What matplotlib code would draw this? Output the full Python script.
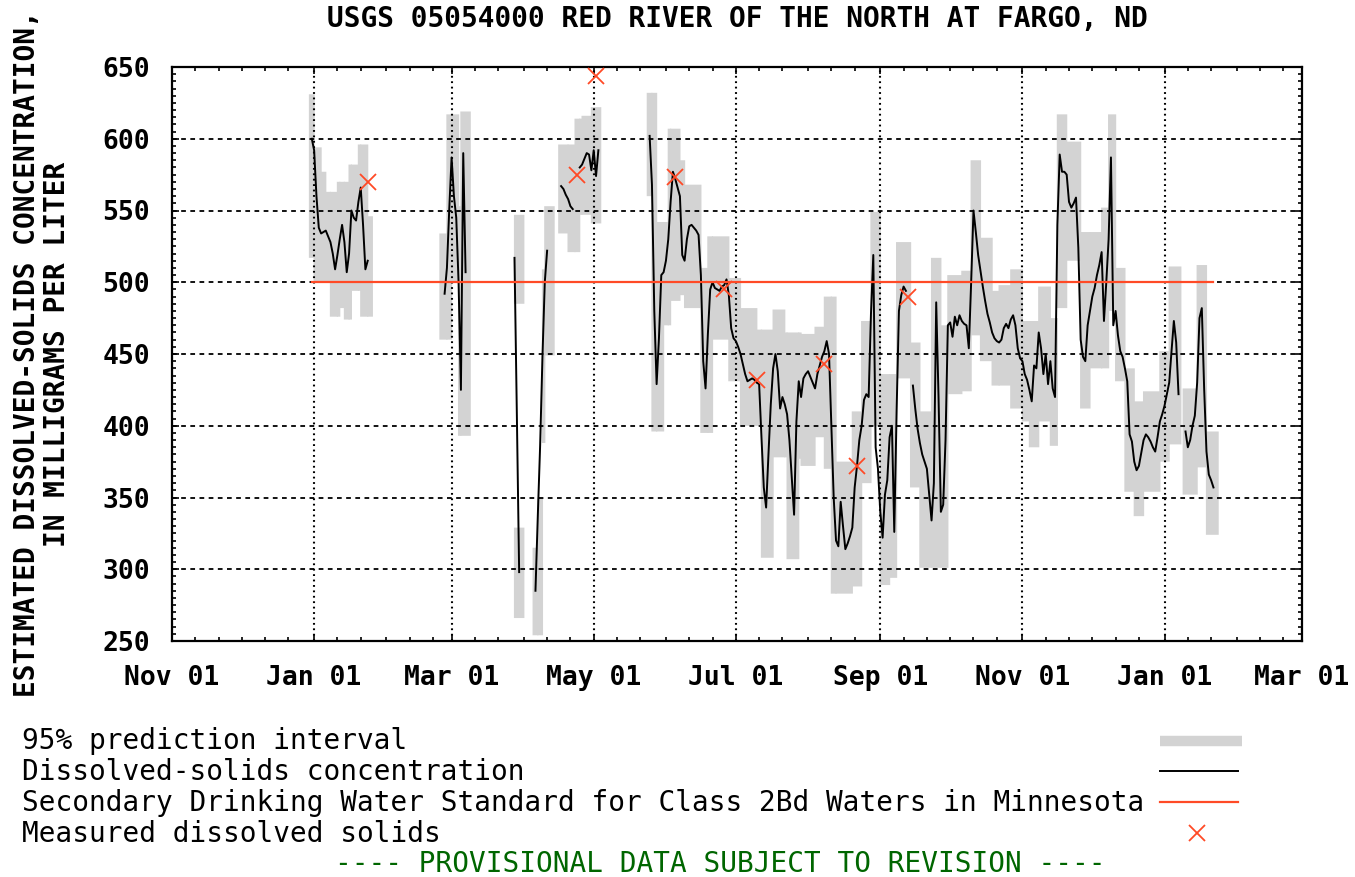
import numpy as np
import pandas as pd
import matplotlib
matplotlib.use("Agg")
import matplotlib.pyplot as plt
import matplotlib.dates as mdates
from matplotlib.lines import Line2D
from matplotlib.ticker import MultipleLocator

plt.rcParams["font.family"] = "DejaVu Sans Mono"
plt.rcParams["font.weight"] = "bold"
plt.rcParams["lines.scale_dashes"] = False

# estimated daily dissolved-solids concentration (mg/L), one list per unbroken run
run_starts = ["2012-12-31", "2013-02-26", "2013-03-28", "2013-04-06", "2013-04-17",
              "2013-04-25", "2013-05-25", "2013-09-15", "2014-01-10"]

conc_jan = [600, 592, 560, 538, 534, 535, 536, 532, 528, 520, 509, 519, 530, 540,
            528, 507, 520, 550, 545, 543, 556, 566, 540, 509, 515]
conc_mar = [492, 510, 551, 587, 560, 545, 500, 425, 590, 507]
conc_late_mar = [517, 409, 298]
conc_apr = [285, 337, 386, 448, 500, 522]
conc_mid_apr = [567, 565, 561, 558, 553, 551]
conc_late_apr = [580, 582, 586, 590, 589, 578, 592, 574, 592]
conc_summer = [
    602, 568, 480, 429, 461, 505, 507,
    515, 530, 556, 577, 572, 566, 560, 519, 515, 530, 539, 540, 538, 536, 533,
    505, 445, 426, 464, 495, 500, 496, 495, 494, 497, 498, 502, 491, 468, 461,
    459, 455, 450, 443, 436, 431, 432, 433, 432, 430, 429, 392, 357, 343, 380,
    415, 440, 450, 438, 412, 420, 415, 408, 390, 364, 338, 403, 431, 420, 433, 436,
    438, 434, 430, 426, 436, 442, 448, 452, 459, 450, 400, 350, 320, 316, 347,
    330, 314, 318, 323, 329, 357, 372, 390, 400, 418, 422, 420, 478, 519, 385, 370,
    340, 322, 352, 362, 392, 400, 326, 410, 480, 491, 497, 494]
conc_fall = [
    428, 412, 398, 388, 380, 375, 370, 352, 334, 360, 486, 420, 340, 345, 390, 470,
    472, 462, 476, 470, 477, 473, 471, 470, 454, 500, 550, 535, 519, 508, 497,
    487, 478, 472, 465, 461, 459, 458, 460, 468, 471, 468, 474, 477, 470, 454, 447,
    445, 436, 432, 425, 417, 442, 440, 465, 454, 436, 450, 429, 445, 426, 420,
    540, 589, 577, 577, 575, 556, 552, 555, 559, 524, 460, 448, 445, 470, 480,
    490, 496, 505, 512, 521, 473, 500, 530, 587, 470, 480, 463, 452, 448, 440,
    431, 394, 389, 375, 369, 372, 381, 390, 394, 392, 389, 385, 382, 392, 403, 408,
    414, 422, 430, 452, 473, 458, 422]
conc_jan2 = [396, 385, 390, 400, 407, 430, 475, 482, 426, 382, 366, 362, 357]

runs = [conc_jan, conc_mar, conc_late_mar, conc_apr, conc_mid_apr, conc_late_apr,
        conc_summer, conc_fall, conc_jan2]

# 95% prediction interval, read as blocks: start, end, low, high (mg/L)
band_start = [
    "2012-12-30", "2013-01-01", "2013-01-04", "2013-01-06", "2013-01-08", "2013-01-11",
    "2013-01-12", "2013-01-14", "2013-01-16", "2013-01-17", "2013-01-20", "2013-01-21",
    "2013-01-24",
    "2013-02-24", "2013-02-27", "2013-03-01", "2013-03-04", "2013-03-05",
    "2013-03-28", "2013-03-28", "2013-04-05", "2013-04-07", "2013-04-09", "2013-04-10",
    "2013-04-16", "2013-04-20", "2013-04-23", "2013-04-25", "2013-04-26", "2013-04-30",
    "2013-05-24", "2013-05-26", "2013-05-28", "2013-05-31", "2013-06-02", "2013-06-03",
    "2013-06-07", "2013-06-09", "2013-06-16", "2013-06-19", "2013-06-21", "2013-06-28",
    "2013-07-03", "2013-07-10", "2013-07-12", "2013-07-17", "2013-07-22", "2013-07-23",
    "2013-07-28", "2013-07-29", "2013-08-04", "2013-08-08", "2013-08-11", "2013-08-13",
    "2013-08-20", "2013-08-24", "2013-08-28", "2013-09-01", "2013-09-05", "2013-09-08",
    "2013-09-14", "2013-09-18", "2013-09-23", "2013-09-27", "2013-09-30", "2013-10-06",
    "2013-10-10", "2013-10-14", "2013-10-19", "2013-10-22", "2013-10-27", "2013-11-01",
    "2013-11-04", "2013-11-08", "2013-11-13", "2013-11-16", "2013-11-20", "2013-11-26",
    "2013-11-30", "2013-12-05", "2013-12-08", "2013-12-11", "2013-12-15", "2013-12-19",
    "2013-12-23", "2013-12-30", "2014-01-03", "2014-01-09", "2014-01-15", "2014-01-19"]
band_end = [
    "2013-01-01", "2013-01-04", "2013-01-06", "2013-01-08", "2013-01-11", "2013-01-12",
    "2013-01-14", "2013-01-16", "2013-01-17", "2013-01-20", "2013-01-21", "2013-01-24",
    "2013-01-26",
    "2013-02-27", "2013-03-01", "2013-03-04", "2013-03-05", "2013-03-09",
    "2013-04-01", "2013-04-01", "2013-04-07", "2013-04-09", "2013-04-10", "2013-04-14",
    "2013-04-20", "2013-04-23", "2013-04-25", "2013-04-26", "2013-04-30", "2013-05-04",
    "2013-05-26", "2013-05-28", "2013-05-31", "2013-06-02", "2013-06-03", "2013-06-07",
    "2013-06-09", "2013-06-16", "2013-06-19", "2013-06-21", "2013-06-28", "2013-07-03",
    "2013-07-10", "2013-07-12", "2013-07-17", "2013-07-22", "2013-07-23", "2013-07-28",
    "2013-07-29", "2013-08-04", "2013-08-08", "2013-08-11", "2013-08-13", "2013-08-20",
    "2013-08-24", "2013-08-28", "2013-09-01", "2013-09-05", "2013-09-08", "2013-09-14",
    "2013-09-18", "2013-09-23", "2013-09-27", "2013-09-30", "2013-10-06", "2013-10-10",
    "2013-10-14", "2013-10-19", "2013-10-22", "2013-10-27", "2013-11-01", "2013-11-04",
    "2013-11-08", "2013-11-13", "2013-11-16", "2013-11-20", "2013-11-26", "2013-11-30",
    "2013-12-05", "2013-12-08", "2013-12-11", "2013-12-15", "2013-12-19", "2013-12-23",
    "2013-12-30", "2014-01-03", "2014-01-08", "2014-01-15", "2014-01-19", "2014-01-24"]
band_low = [
    517, 500, 500, 500, 476, 476, 482, 474, 474, 494, 494, 476, 476,
    460, 460, 500, 393, 393,
    485, 266, 254, 254, 388, 449,
    534, 521, 521, 547, 547, 541,
    560, 396, 396, 470, 470, 487, 491, 482, 395, 395, 460, 431,
    400, 400, 308, 378, 378, 307, 377, 372, 392, 370, 283, 283,
    288, 360, 400, 289, 294, 433,
    357, 301, 301, 301, 422, 424, 463, 445, 428, 428, 412, 403,
    385, 403, 386, 482, 515, 412, 440, 440, 480, 431, 354, 337,
    354, 375, 387, 352, 371, 324]
band_high = [
    631, 594, 577, 563, 563, 570, 570, 570, 582, 582, 596, 596, 546,
    534, 617, 617, 553, 619,
    547, 329, 315, 350, 509, 553,
    596, 596, 614, 614, 616, 622,
    632, 632, 542, 542, 607, 607, 585, 568, 510, 532, 532, 503,
    482, 467, 467, 481, 465, 465, 465, 464, 469, 490, 490, 375,
    410, 473, 549, 436, 436, 528,
    458, 410, 517, 470, 505, 508, 585, 531, 494, 498, 509, 473,
    473, 497, 475, 617, 598, 535, 535, 552, 617, 510, 440, 417,
    424, 452, 511, 426, 512, 396]

# measured samples
meas_dates = ["2013-01-24", "2013-04-24", "2013-05-02", "2013-06-05", "2013-06-26",
              "2013-07-10", "2013-08-08", "2013-08-22", "2013-09-13"]
meas_values = [570, 575, 644, 573, 495, 432, 443, 372, 490]

standard_value = 500
standard_span = ["2012-12-31", "2014-01-22"]

band_color = "#d3d3d3"
red = "#ff4a26"

fig = plt.figure(figsize=(13.55, 8.77), dpi=100)
ax = fig.add_axes([172 / 1355, 1 - 641 / 877, 1130 / 1355, 574 / 877])

bs = mdates.datestr2num(band_start)
be = mdates.datestr2num(band_end)
lo = np.array(band_low)
hi = np.array(band_high)
# blocks overlap a little so no hairline seams show between neighbours
ax.bar(bs - 0.25, hi - lo, width=be - bs + 0.5, bottom=lo, align="edge",
       color=band_color, linewidth=0, snap=False, zorder=1)

for start, vals in zip(run_starts, runs):
    d = mdates.date2num(pd.date_range(start, periods=len(vals), freq="D"))
    ax.plot(d, vals, color="black", lw=1.4, zorder=3)

ax.plot(mdates.datestr2num(standard_span), [standard_value] * 2, color=red,
        lw=1.6, zorder=3.5)
ax.plot(mdates.datestr2num(meas_dates), meas_values, linestyle="none", marker="x",
        markersize=11, mew=1.3, color=red, zorder=4, clip_on=False)

ax.set_xlim(mdates.datestr2num("2012-11-01"), mdates.datestr2num("2014-03-01"))
ax.set_ylim(250, 650)

ax.xaxis.set_major_locator(mdates.MonthLocator(bymonth=[1, 3, 5, 7, 9, 11]))
ax.xaxis.set_minor_locator(mdates.DayLocator(bymonthday=[1, 11, 21]))
ax.xaxis.set_major_formatter(mdates.DateFormatter("%b %d"))
ax.yaxis.set_major_locator(MultipleLocator(50))
ax.yaxis.set_minor_locator(MultipleLocator(5))

ax.set_axisbelow(False)
ax.grid(axis="y", which="major", color="black", linestyle=(0, (3.4, 3.2)), lw=1.3)
ax.grid(axis="x", which="major", color="black", linestyle=(0, (1.3, 2.6)), lw=1.5)

ax.tick_params(which="both", direction="in", top=True, right=True, width=1.2,
               labelsize=19)
ax.tick_params(which="major", length=5)
ax.tick_params(which="minor", length=3)
ax.tick_params(axis="x", pad=17)
ax.tick_params(axis="y", pad=16)
for s in ax.spines.values():
    s.set_linewidth(1.6)

fig.text(737 / 1355, 1 - 19 / 877, "USGS 05054000 RED RIVER OF THE NORTH AT FARGO, ND",
         ha="center", va="center", fontsize=20)
fig.text(27 / 1355, 1 - 354 / 877, "ESTIMATED DISSOLVED-SOLIDS CONCENTRATION,",
         rotation=90, ha="center", va="center", fontsize=20)
fig.text(57 / 1355, 1 - 354 / 877, "IN MILLIGRAMS PER LITER",
         rotation=90, ha="center", va="center", fontsize=20)

# legend block under the plot
legend_labels = ["95% prediction interval", "Dissolved-solids concentration",
                 "Secondary Drinking Water Standard for Class 2Bd Waters in Minnesota",
                 "Measured dissolved solids"]
rows = [741, 772, 803, 834]
for lab, r in zip(legend_labels, rows):
    fig.text(22 / 1355, 1 - r / 877, lab, ha="left", va="center", fontsize=20,
             fontweight="normal")

fig.add_artist(Line2D([1160 / 1355, 1242 / 1355], [1 - 741 / 877] * 2, color=band_color,
                      lw=7.5, solid_capstyle="butt", transform=fig.transFigure))
fig.add_artist(Line2D([1160 / 1355, 1238 / 1355], [1 - 771 / 877] * 2, color="black",
                      lw=1.4, transform=fig.transFigure))
fig.add_artist(Line2D([1160 / 1355, 1238 / 1355], [1 - 802 / 877] * 2, color=red,
                      lw=1.6, transform=fig.transFigure))
fig.add_artist(Line2D([1197 / 1355], [1 - 833 / 877], marker="x", markersize=11, mew=1.3,
                      color=red, linestyle="none", transform=fig.transFigure))

fig.text(720 / 1355, 1 - 864 / 877, "---- PROVISIONAL DATA SUBJECT TO REVISION ----",
         ha="center", va="center", fontsize=20, fontweight="normal", color="#006600")

fig.savefig("out.png", dpi=100)
